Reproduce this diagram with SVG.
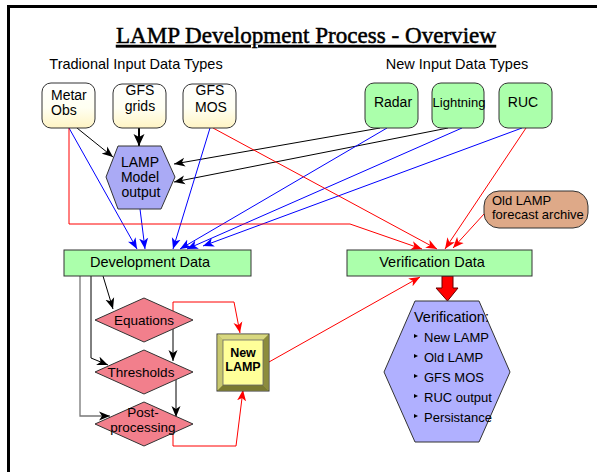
<svg xmlns="http://www.w3.org/2000/svg" width="598" height="472" viewBox="0 0 598 472">
<defs>
<linearGradient id="cream" x1="0" y1="0" x2="0" y2="1">
<stop offset="0" stop-color="#FFFFFF"/>
<stop offset="0.55" stop-color="#FFFFF2"/>
<stop offset="1" stop-color="#FFF4C4"/>
</linearGradient>
<marker id="ak" markerUnits="userSpaceOnUse" markerWidth="12" markerHeight="10" refX="11" refY="5" orient="auto"><path d="M0,0.5 L11,5 L0,9.5 L3,5 z" fill="#000"/></marker>
<marker id="akb" markerUnits="userSpaceOnUse" markerWidth="13" markerHeight="12" refX="12" refY="6" orient="auto"><path d="M0,0.5 L12,6 L0,11.5 L3,6 z" fill="#000"/></marker>
<marker id="ab" markerUnits="userSpaceOnUse" markerWidth="12" markerHeight="10" refX="11" refY="5" orient="auto"><path d="M0,0.5 L11,5 L0,9.5 L3,5 z" fill="#0000FF"/></marker>
<marker id="ar" markerUnits="userSpaceOnUse" markerWidth="12" markerHeight="10" refX="11" refY="5" orient="auto"><path d="M0,0.5 L11,5 L0,9.5 L3,5 z" fill="#FF0000"/></marker>
</defs>
<style>
.t{font-family:"Liberation Sans",Arial,sans-serif;fill:#000}
.node{stroke:#333;stroke-width:1}
.trad{fill:url(#cream)}
.green{fill:#ABFFAB}
.hex{fill:#AAAAF5}
.dia{fill:#F27F8C}
.ck{fill:none;stroke:#000;stroke-width:1;marker-end:url(#ak)}
.cb{fill:none;stroke:#0000FF;stroke-width:1;marker-end:url(#ab)}
.cr{fill:none;stroke:#FF0000;stroke-width:1;marker-end:url(#ar)}
</style>
<rect x="0" y="0" width="598" height="472" fill="#fff"/>
<path d="M8.5,472 L8.5,6.5 L597,6.5" fill="none" stroke="#000" stroke-width="3"/>
<text x="306" y="43" text-anchor="middle" font-family="'Liberation Serif','Times New Roman',serif" font-size="23" stroke="#000" stroke-width="0.5" text-decoration="underline" textLength="380" lengthAdjust="spacingAndGlyphs">LAMP Development Process - Overview</text>
<text class="t" x="136" y="69" text-anchor="middle" font-size="14.5">Tradional Input Data Types</text>
<text class="t" x="457" y="69" text-anchor="middle" font-size="14.5">New Input Data Types</text>

<g id="connectors">
<path class="ck" d="M77,128 L113,157"/>
<path d="M139,128 L139,146" fill="none" stroke="#000" stroke-width="2" marker-end="url(#akb)"/>
<path class="ck" d="M380,128 L174,164"/>
<path class="ck" d="M448,128 L174,182"/>
<path class="cb" d="M69,128 L137,249"/>
<path class="cb" d="M140,209 L145,249"/>
<path class="cb" d="M210,128 L173,249"/>
<path class="cb" d="M387,128 L180,249"/>
<path class="cb" d="M462,128 L187,249"/>
<path class="cb" d="M522,128 L203,246"/>
<path class="cr" d="M69,128 L69,224 L350,224 L422,249"/>
<path class="cr" d="M213,128 L437,249"/>
<path class="cr" d="M526,128 L445,249"/>
<path class="cr" d="M484,214 L453,248"/>
<path class="cr" d="M269,362 L420,277"/>
<path class="cr" d="M173,311 L173,302 L234,302 L240,333"/>
<path class="cr" d="M173,433 L173,446 L236,446 L243,390"/>
<path class="ck" d="M103,276 L113,309"/>
<path class="ck" d="M91,276 L91,358 L108,365"/>
<path d="M80,276 L80,416 L110,416" fill="none" stroke="#777" stroke-width="1.3" marker-end="url(#ak)"/>
<path class="ck" d="M173,329 L173,361"/>
<path class="ck" d="M176,380 L176,417"/>
<polygon points="442,276 453,276 453,288 458,288 447.5,301 436,288 442,288" fill="#FF0000" stroke="#660000" stroke-width="1"/>
</g>

<g id="metar">
<rect class="node trad" x="42" y="83" width="53" height="45" rx="9"/>
<text class="t" x="51" y="100" font-size="14">Metar</text>
<text class="t" x="51" y="115" font-size="14">Obs</text>
</g>
<g id="gfsgrids">
<rect class="node trad" x="113" y="84" width="53" height="44" rx="9"/>
<text class="t" x="140" y="95" text-anchor="middle" font-size="14">GFS</text>
<text class="t" x="140" y="111" text-anchor="middle" font-size="14">grids</text>
</g>
<g id="gfsmos">
<rect class="node trad" x="183" y="84" width="53" height="44" rx="9"/>
<text class="t" x="210" y="95" text-anchor="middle" font-size="14">GFS</text>
<text class="t" x="211" y="112" text-anchor="middle" font-size="14">MOS</text>
</g>
<g id="radar">
<rect class="node green" x="365" y="83" width="53" height="45" rx="9"/>
<text class="t" x="393" y="107" text-anchor="middle" font-size="14">Radar</text>
</g>
<g id="lightning">
<rect class="node green" x="432" y="83" width="52" height="45" rx="9"/>
<text class="t" x="459" y="107" text-anchor="middle" font-size="13">Lightning</text>
</g>
<g id="ruc">
<rect class="node green" x="499" y="83" width="53" height="45" rx="9"/>
<text class="t" x="523" y="107" text-anchor="middle" font-size="14">RUC</text>
</g>
<g id="lampmodel">
<polygon class="node hex" points="118,146 161,146 175,177 161,209 118,209 106,177"/>
<text class="t" x="140" y="167" text-anchor="middle" font-size="14">LAMP</text>
<text class="t" x="140" y="182" text-anchor="middle" font-size="14">Model</text>
<text class="t" x="141" y="197" text-anchor="middle" font-size="14">output</text>
</g>
<g id="oldlamp">
<rect x="484" y="191" width="104" height="37" rx="15" fill="#DEA988" stroke="#333"/>
<text class="t" x="492" y="205" font-size="13">Old LAMP</text>
<text class="t" x="492" y="219" font-size="13">forecast archive</text>
</g>
<g id="devdata">
<rect class="node green" x="64" y="250" width="187" height="26"/>
<text class="t" x="150" y="267" text-anchor="middle" font-size="14.5">Development Data</text>
</g>
<g id="verdata">
<rect class="node green" x="347" y="250" width="185" height="26"/>
<text class="t" x="432" y="267" text-anchor="middle" font-size="14.5">Verification Data</text>
</g>
<g id="equations">
<polygon class="node dia" points="144,298 193,320 144,342 95,320"/>
<text class="t" x="144" y="325" text-anchor="middle" font-size="13.5">Equations</text>
</g>
<g id="thresholds">
<polygon class="node dia" points="144,350 193,372 144,394 95,372"/>
<text class="t" x="141" y="377" text-anchor="middle" font-size="13.5">Thresholds</text>
</g>
<g id="postprocessing">
<polygon class="node dia" points="144,402 193,424 144,446 95,424"/>
<text class="t" x="143" y="417" text-anchor="middle" font-size="13.5">Post-</text>
<text class="t" x="143" y="432" text-anchor="middle" font-size="13.5">processing</text>
</g>
<g id="newlamp">
<rect x="217" y="334" width="52" height="57" fill="#B0B058" stroke="#333"/>
<polygon points="217.5,334.5 268.5,334.5 263,340 223,340" fill="#D8D880"/>
<polygon points="217.5,334.5 223,340 223,385 217.5,390.5" fill="#C8C870"/>
<polygon points="268.5,334.5 268.5,390.5 263,385 263,340" fill="#8C8C3C"/>
<polygon points="217.5,390.5 223,385 263,385 268.5,390.5" fill="#7A7A30"/>
<rect x="223" y="340" width="40" height="45" fill="#FFFF99" stroke="#666" stroke-width="0.8"/>
<text class="t" x="243" y="357" text-anchor="middle" font-size="12.5" font-weight="bold">New</text>
<text class="t" x="243" y="371" text-anchor="middle" font-size="12.5" font-weight="bold">LAMP</text>
</g>
<g id="verification">
<polygon class="node" points="415,301 479,301 510,372 479,442 415,442 384,372" fill="#B0B0FF"/>
<text class="t" x="414" y="322" font-size="14.5">Verification:</text>
<g fill="#000">
<polygon points="414,334 418,336 414,338"/>
<polygon points="414,354 418,356 414,358"/>
<polygon points="414,374 418,376 414,378"/>
<polygon points="414,394 418,396 414,398"/>
<polygon points="414,414 418,416 414,418"/>
</g>
<text class="t" x="424" y="342" font-size="13">New LAMP</text>
<text class="t" x="424" y="362" font-size="13">Old LAMP</text>
<text class="t" x="424" y="382" font-size="13">GFS MOS</text>
<text class="t" x="424" y="402" font-size="13">RUC output</text>
<text class="t" x="424" y="422" font-size="13">Persistance</text>
</g>
</svg>
